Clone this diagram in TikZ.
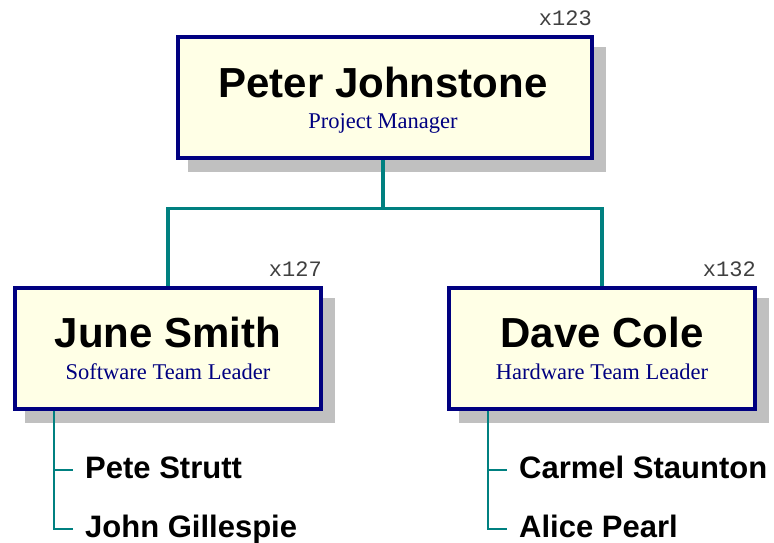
\documentclass[tikz,border=0pt]{standalone}
\usepackage{fontspec}
\setmainfont{Liberation Serif}
\setsansfont{Liberation Sans}
\setmonofont{Liberation Mono}
\usetikzlibrary{backgrounds}
\definecolor{boxfill}{RGB}{255,255,230}
\definecolor{boxline}{RGB}{0,0,128}
\definecolor{conncol}{RGB}{0,128,128}
\definecolor{shadowcol}{RGB}{192,192,192}
\definecolor{titlecol}{RGB}{0,0,128}
\begin{document}
\begin{tikzpicture}[x=1pt,y=-1pt,
  personbox/.style={draw=boxline, line width=4pt, fill=boxfill, inner sep=0pt, minimum height=121pt},
  boxshadow/.style={fill=shadowcol},
  namelabel/.style={font=\sffamily\bfseries\fontsize{42}{46}\selectfont, inner sep=0pt, anchor=base},
  titlelabel/.style={font=\rmfamily\fontsize{22.5}{26}\selectfont, text=titlecol, inner sep=0pt, anchor=base},
  extlabel/.style={font=\ttfamily\fontsize{22}{24}\selectfont, text=black!75, inner sep=0pt, anchor=base east},
  sublabel/.style={font=\sffamily\bfseries\fontsize{31}{34}\selectfont, inner sep=0pt, anchor=base west, text height=22pt, text depth=6pt},
  conn/.style={draw=conncol, line width=3.5pt},
  subconn/.style={draw=conncol, line width=2pt}
]
\useasboundingbox (0,0) rectangle (774,542);

% boxes
\node[personbox, minimum width=414pt] (pj) at (385,97.9) {};
\node[personbox, minimum width=306pt] (js) at (168,348.7) {};
\node[personbox, minimum width=306pt] (dc) at (602,348.7) {};

% shadows
\begin{scope}[on background layer]
  \foreach \b in {pj,js,dc}
    \fill[boxshadow] ([shift={(12,12)}]\b.north west) rectangle ([shift={(12,12)}]\b.south east);
\end{scope}

% texts in boxes
\node[namelabel] (pjname) at (383,97) {Peter Johnstone};
\node[titlelabel] (pjtitle) at (383,128.5) {Project Manager};
\node[namelabel] (jsname) at (168,347) {June Smith};
\node[titlelabel] (jstitle) at (168,379) {Software Team Leader};
\node[namelabel] (dcname) at (602,347) {Dave Cole};
\node[titlelabel] (dctitle) at (602,379) {Hardware Team Leader};

% extensions
\node[extlabel] (pjext) at (592,25) {x123};
\node[extlabel] (jsext) at (322,276) {x127};
\node[extlabel] (dcext) at (756,276) {x132};

% connectors
\coordinate (bus) at (383,208.5);
\draw[conn] (bus |- pj.south) -- (bus) -| (js.north);
\draw[conn] (bus) -| (dc.north);

% sub-lists
\node[sublabel] (ps) at (85,478) {Pete Strutt};
\node[sublabel] (jg) at (85,537) {John Gillespie};
\node[sublabel] (cs) at (519,478) {Carmel Staunton};
\node[sublabel] (ap) at (519,537) {Alice Pearl};

\coordinate (jsroot) at (54,410.7);
\coordinate (dcroot) at (488,410.7);
\draw[subconn] (jsroot) |- ([xshift=-12pt]jg.west);
\draw[subconn] (jsroot |- ps.west) -- ([xshift=-12pt]ps.west);
\draw[subconn] (dcroot) |- ([xshift=-12pt]ap.west);
\draw[subconn] (dcroot |- cs.west) -- ([xshift=-12pt]cs.west);
\end{tikzpicture}
\end{document}
